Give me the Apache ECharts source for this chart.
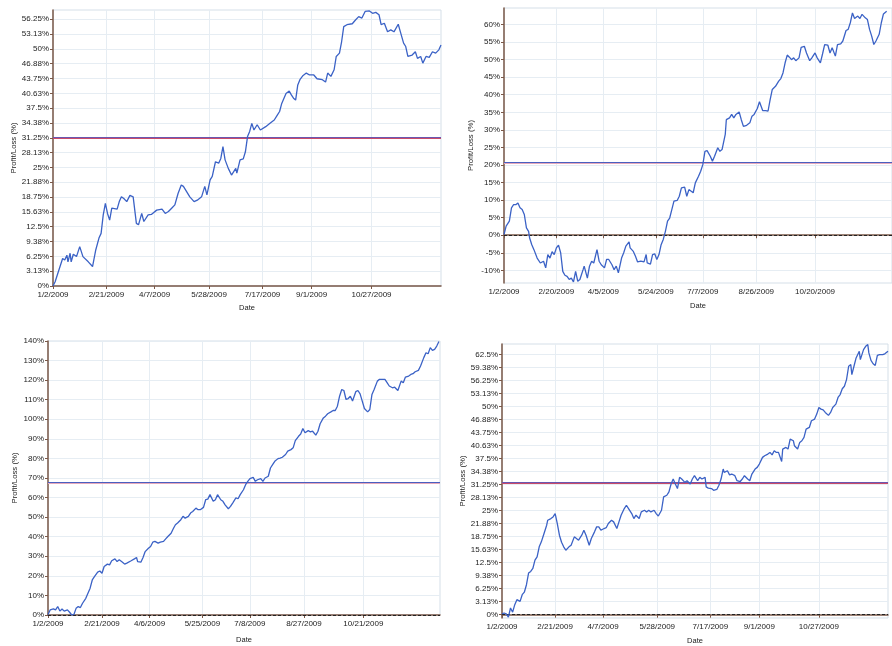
<!DOCTYPE html>
<html>
<head>
<meta charset="utf-8">
<script src="https://cdn.jsdelivr.net/npm/echarts@6/dist/echarts.min.js"></script>
<style>
html,body{margin:0;padding:0;background:#fff;}
#c{width:892px;height:646px;}
</style>
</head>
<body>
<div id="c"></div>
<script>
const YEAR = 2009;

// ---------- Panel 1 (top-left) ----------
const p1Dates = ['01-02','01-04','01-07','01-11','01-13','01-15','01-16','01-18','01-19','01-21',
'01-24','01-27','01-30','02-04','02-08','02-11','02-14','02-16','02-18','02-20',
'02-22','02-24','02-26','03-03','03-05','03-07','03-09','03-12','03-15','03-18',
'03-21','03-23','03-26','03-28','04-01','04-04','04-09','04-14','04-17','04-20',
'04-23','04-26','04-29','05-02','05-04','05-07','05-10','05-14','05-17','05-21',
'05-24','05-26','05-29','05-31','06-01','06-03','06-06','06-08','06-10','06-12',
'06-15','06-18','06-22','06-23','06-26','06-29','07-01','07-03','07-05','07-07',
'07-09','07-12','07-15','07-20','07-24','07-28','07-31','08-02','08-04','08-08',
'08-11','08-13','08-15','08-17','08-19','08-21','08-24','08-27','08-30','09-03',
'09-06','09-11','09-14','09-16','09-19','09-22','09-24','09-27','09-29','10-01',
'10-04','10-09','10-12','10-15','10-18','10-21','10-25','10-28','10-31','11-03',
'11-05','11-08','11-11','11-14','11-17','11-21','11-23','11-26','11-28','11-30',
'12-04','12-07','12-09','12-12','12-14','12-17','12-20','12-23','12-26','12-29',
'12-31'];
const p1Values = [0,0.9,3.0,5.8,5.5,6.5,5.1,6.9,5.1,6.7,
6.2,8.3,6.2,5.1,4.1,7.6,10.1,11.1,15.0,17.4,
15.3,13.9,16.4,16.2,17.8,18.8,18.5,17.8,19.1,18.8,
13.2,12.9,15.3,13.6,15.0,15.1,16.0,16.2,15.3,15.7,
16.4,17.1,19.5,21.3,21.0,19.9,18.8,17.8,18.1,18.8,
21.0,19.2,22.4,23.1,22.7,26.2,25.9,26.9,29.4,26.6,
24.8,23.4,24.8,23.8,26.6,26.8,28.3,31.5,32.6,34.3,
32.9,34.0,32.9,33.6,34.3,35.0,36.1,36.8,38.5,40.6,
41.1,40.3,39.6,39.2,42.4,43.5,44.4,44.9,44.5,44.5,
43.7,43.5,43.0,44.9,44.2,45.6,48.4,49.1,51.5,54.7,
55.1,55.3,56.1,56.8,56.5,57.9,58.0,57.5,57.7,57.2,
55.1,55.4,53.6,54.0,53.6,55.2,53.6,51.2,50.5,48.4,
48.7,49.4,48.0,48.4,47.0,48.4,48.2,49.4,49.1,49.8,
50.8];
const p1Average = 31.3;
const p1XTicks = ['01-02','02-21','04-07','05-28','07-17','09-01','10-27'];
const p1YTicks = [0,3.125,6.25,9.375,12.5,15.625,18.75,21.875,25,28.125,31.25,34.375,37.5,40.625,43.75,46.875,50,53.125,56.25];

// ---------- Panel 2 (top-right) ----------
const p2Dates = ['01-02','01-04','01-07','01-09','01-11','01-13','01-15','01-17','01-19','01-21',
'01-23','01-25','01-26','01-28','01-30','02-02','02-05','02-08','02-10','02-12',
'02-14','02-16','02-18','02-20','02-22','02-24','02-26','02-28','03-02','03-04',
'03-06','03-08','03-10','03-12','03-14','03-17','03-18','03-21','03-23','03-25',
'03-27','03-30','04-01','04-03','04-06','04-08','04-10','04-13','04-15','04-17',
'04-19','04-22','04-24','04-26','04-29','04-30','05-03','05-05','05-07','05-10',
'05-13','05-15','05-16','05-19','05-21','05-23','05-25','05-27','05-29','05-31',
'06-02','06-04','06-06','06-08','06-10','06-13','06-15','06-17','06-20','06-22',
'06-24','06-25','06-28','06-30','07-03','07-05','07-07','07-09','07-11','07-14',
'07-16','07-18','07-21','07-23','07-25','07-28','07-29','08-01','08-03','08-05',
'08-07','08-10','08-12','08-14','08-17','08-20','08-22','08-24','08-27','08-29',
'09-01','09-04','09-06','09-08','09-10','09-13','09-16','09-18','09-20','09-22',
'09-24','09-26','09-28','09-30','10-02','10-05','10-07','10-10','10-12','10-15',
'10-17','10-20','10-22','10-25','10-27','10-29','11-01','11-03','11-05','11-08',
'11-10','11-13','11-15','11-18','11-20','11-22','11-24','11-26','11-29','12-01',
'12-03','12-06','12-08','12-10','12-12','12-14','12-16','12-19','12-21','12-23',
'12-26'];
const p2Values = [0.2,2.6,4.0,7.8,8.7,8.7,9.2,7.8,7.3,5.9,
2.1,1.1,-0.8,-2.7,-4.1,-6.5,-7.9,-7.4,-9.3,-5.5,
-6.5,-4.7,-5.5,-3.6,-2.8,-5.0,-10.3,-11.4,-11.7,-12.6,
-12.2,-13.3,-10.3,-13.1,-12.6,-9.8,-8.8,-12.2,-8.8,-7.4,
-7.9,-4.1,-7.4,-8.4,-9.3,-6.9,-6.9,-8.4,-9.8,-8.8,
-10.7,-6.5,-5.0,-3.1,-1.9,-3.6,-4.6,-6.0,-7.6,-7.4,
-7.6,-5.5,-7.9,-8.2,-5.5,-5.3,-6.9,-5.5,-2.7,-1.2,
1.1,4.0,4.9,7.3,9.7,9.9,11.1,13.5,13.7,11.1,
13.0,12.5,12.1,14.9,16.8,18.2,20.1,23.9,24.1,22.5,
21.1,22.5,24.9,23.9,24.4,28.7,32.9,33.4,34.4,33.4,
34.4,35.1,32.9,31.0,31.3,32.0,33.9,34.4,36.1,38.0,
35.5,35.5,35.3,38.6,41.5,42.4,43.9,44.6,46.2,49.1,
51.3,50.7,50.0,50.5,49.7,50.5,53.5,53.8,51.9,49.7,
50.5,51.9,50.5,49.1,51.6,54.3,54.1,51.9,53.4,51.0,
54.3,54.5,55.3,58.3,58.6,60.5,63.3,61.7,62.4,61.7,
62.9,61.9,61.4,58.6,56.7,54.3,55.3,57.2,60.5,63.0,
63.8];
const p2Average = 20.9;
const p2XTicks = ['01-02','02-20','04-05','05-24','07-07','08-26','10-20'];
const p2YTicks = [-10,-5,0,5,10,15,20,25,30,35,40,45,50,55,60];

// ---------- Panel 3 (bottom-left) ----------
const p3Dates = ['01-02','01-04','01-07','01-09','01-11','01-13','01-15','01-17','01-20','01-22',
'01-24','01-26','01-28','01-30','02-01','02-03','02-06','02-07','02-10','02-12',
'02-14','02-17','02-19','02-21','02-23','02-26','02-28','03-02','03-05','03-07',
'03-09','03-12','03-14','03-16','03-20','03-23','03-25','03-26','03-29','03-31',
'04-02','04-05','04-07','04-09','04-11','04-14','04-16','04-19','04-21','04-23',
'04-26','04-28','04-30','05-02','05-05','05-07','05-09','05-12','05-14','05-16',
'05-19','05-21','05-23','05-26','05-28','05-30','06-01','06-04','06-06','06-08',
'06-11','06-13','06-15','06-18','06-20','06-22','06-25','06-27','06-29','07-02',
'07-04','07-06','07-08','07-11','07-13','07-15','07-18','07-20','07-22','07-25',
'07-27','07-29','07-31','08-03','08-05','08-07','08-10','08-12','08-15','08-17',
'08-19','08-22','08-24','08-26','08-28','08-31','09-02','09-04','09-07','09-09',
'09-11','09-14','09-16','09-18','09-21','09-23','09-25','09-27','09-29','10-01',
'10-03','10-05','10-07','10-09','10-11','10-14','10-16','10-18','10-20','10-22',
'10-25','10-27','10-29','10-31','11-03','11-05','11-07','11-10','11-12','11-14',
'11-17','11-19','11-22','11-23','11-25','11-27','11-29','12-02','12-04','12-06',
'12-08','12-11','12-13','12-16','12-18','12-20','12-22','12-24','12-26','12-28',
'12-30'];
const p3Values = [0.3,2.6,3.1,2.6,4.3,2.0,3.1,2.0,2.6,1.4,
0,0.3,3.4,4.3,3.8,6.0,8.5,7.7,13.7,17.9,
19.6,21.9,22.5,21.3,24.8,26.0,25.6,27.7,28.7,27.3,
28.2,27.0,26.0,26.5,27.7,28.7,29.4,27.3,27.0,29.4,
32.4,34.1,35.0,37.2,37.6,36.7,37.2,37.6,38.9,40.1,
41.8,44.1,46.1,47.0,48.7,50.4,49.5,50.4,52.1,52.9,
54.6,53.8,53.8,55.0,58.9,59.2,61.5,58.1,58.9,61.5,
58.9,58.1,56.3,54.3,55.5,57.2,59.8,59.4,61.5,64.0,
66.6,68.3,69.7,70.3,68.3,69.1,69.7,68.3,70.0,70.9,
75.1,76.8,78.5,79.9,80.2,80.6,82.0,83.7,84.5,85.4,
89.1,91.3,92.5,95.3,93.1,94.2,93.6,93.9,91.9,93.9,
97.7,100.7,101.6,102.8,103.8,104.5,104.5,106.7,111.8,115.2,
114.7,110.1,110.6,111.8,109.3,114.1,114.7,113.0,109.3,105.5,
103.8,105.0,112.7,115.2,119.5,120.4,120.4,120.4,118.7,117.0,
116.1,116.4,114.7,114.1,119.5,118.7,121.6,122.1,122.9,123.3,
124.3,125.0,127.2,131.5,134.0,133.5,136.6,135.2,135.7,137.4,
139.7];
const p3Average = 67.8;
const p3XTicks = ['01-02','02-21','04-06','05-25','07-08','08-27','10-21'];
const p3YTicks = [0,10,20,30,40,50,60,70,80,90,100,110,120,130,140];

// ---------- Panel 4 (bottom-right) ----------
const p4Dates = ['01-02','01-04','01-06','01-08','01-10','01-12','01-14','01-16','01-19','01-21',
'01-23','01-25','01-27','01-29','01-31','02-02','02-04','02-06','02-08','02-10',
'02-11','02-13','02-14','02-17','02-19','02-21','02-23','02-25','02-27','03-01',
'03-03','03-06','03-08','03-11','03-13','03-15','03-18','03-20','03-22','03-25',
'03-27','03-30','04-01','04-03','04-05','04-08','04-10','04-12','04-15','04-17',
'04-20','04-22','04-24','04-27','04-29','05-01','05-04','05-06','05-08','05-11',
'05-13','05-16','05-18','05-20','05-22','05-25','05-27','05-29','06-01','06-03',
'06-06','06-08','06-10','06-12','06-14','06-16','06-18','06-20','06-23','06-25',
'06-28','06-30','07-02','07-05','07-07','07-09','07-12','07-13','07-15','07-18',
'07-20','07-23','07-25','07-27','07-29','07-30','08-02','08-04','08-06','08-09',
'08-11','08-14','08-16','08-18','08-21','08-23','08-25','08-28','08-30','09-01',
'09-04','09-06','09-09','09-11','09-13','09-15','09-17','09-19','09-22','09-23',
'09-26','09-28','09-30','10-03','10-04','10-07','10-09','10-11','10-13','10-15',
'10-18','10-20','10-23','10-25','10-27','10-29','10-31','11-02','11-05','11-07',
'11-09','11-12','11-14','11-16','11-18','11-20','11-22','11-24','11-26','11-27',
'11-29','12-01','12-04','12-05','12-08','12-10','12-12','12-13','12-15','12-17',
'12-19','12-21','12-23','12-26','12-28','12-31'];
const p4Values = [0.2,0.4,0.2,-0.6,1.6,0.6,2.4,3.6,3.2,4.8,
5.4,7.2,10.0,10.4,11.1,13.1,13.9,16.3,17.5,19.1,
19.5,21.5,22.7,23.1,23.5,24.3,21.9,19.1,17.4,16.3,
15.5,16.3,16.7,18.7,18.3,17.9,19.1,20.3,19.1,16.7,
18.3,19.9,21.1,21.1,20.3,20.7,20.9,21.9,22.7,22.3,
20.7,22.3,23.9,25.5,26.3,25.5,24.3,23.1,23.9,23.1,
24.7,25.1,24.7,25.1,24.7,25.1,24.3,23.7,25.1,28.3,
28.7,29.5,31.4,32.6,31.4,30.3,33.0,32.6,31.8,32.2,
31.4,32.6,33.4,32.2,33.0,32.6,33.0,30.7,30.4,30.3,
29.9,30.1,31.1,32.6,35.0,34.2,34.6,33.6,33.8,33.4,
32.2,32.0,32.6,33.4,32.6,32.2,33.8,35.0,35.4,36.2,
37.8,38.2,38.6,39.0,38.4,39.4,39.0,39.0,36.8,39.8,
40.2,39.8,42.2,41.8,40.6,39.8,41.4,41.8,42.6,44.6,
45.0,46.6,47.0,48.2,49.8,49.4,49.2,48.6,47.9,48.6,
49.8,50.6,52.2,52.9,54.3,54.9,56.5,59.7,60.1,57.7,
59.7,61.7,63.3,61.3,63.7,64.5,64.9,62.9,61.1,60.3,
59.9,62.3,62.5,62.5,62.7,63.3];
const p4Average = 31.8;
const p4XTicks = ['01-02','02-21','04-07','05-28','07-17','09-01','10-27'];
const p4YTicks = [0,3.125,6.25,9.375,12.5,15.625,18.75,21.875,25,28.125,31.25,34.375,37.5,40.625,43.75,46.875,50,53.125,56.25,59.375,62.5];

const xStart = '01-02';
const xEnd = '12-31';
const yTitle = 'Profit/Loss (%)';
const xTitle = 'Date';

// ---------- helpers ----------
function ts(md){ const p = md.split('-').map(Number); return new Date(YEAR, p[0]-1, p[1]).getTime(); }
function fmtDate(v){ const d = new Date(+v); return (d.getMonth()+1)+'/'+d.getDate()+'/'+d.getFullYear(); }
function fmtPct(v){ return (+(+v).toFixed(2)) + '%'; }

const FONT = 'Liberation Sans';
const AXIS_COLOR = '#7a5848';
const GRID_LINE = '#e6edf3';

const panels = [
  {dates:p1Dates, values:p1Values, avg:p1Average, xt:p1XTicks, yt:p1YTicks, yMin:0, yMax:58.2, zero:false,
   grid:{left:53, top:10, width:388, height:276}, yGap:35, xGap:18, avgColor:'#6a58b0', avgShadow:'#c84a6a'},
  {dates:p2Dates, values:p2Values, avg:p2Average, xt:p2XTicks, yt:p2YTicks, yMin:-13.6, yMax:64.7, zero:true,
   grid:{left:504, top:8, width:393, height:275}, yGap:29, xGap:19, avgColor:'#4a5fc0', avgShadow:'#e4a8bc'},
  {dates:p3Dates, values:p3Values, avg:p3Average, xt:p3XTicks, yt:p3YTicks, yMin:0, yMax:140, zero:true,
   grid:{left:48, top:341, width:392, height:274}, yGap:29, xGap:21, avgColor:'#4a5fc0', avgShadow:'#e4a8bc'},
  {dates:p4Dates, values:p4Values, avg:p4Average, xt:p4XTicks, yt:p4YTicks, yMin:-0.8, yMax:65.05, zero:true,
   grid:{left:502, top:344, width:386, height:276}, yGap:35, xGap:19, avgColor:'#6a58b0', avgShadow:'#c84a6a'}
];

const option = {animation:false, backgroundColor:'#fff', grid:[], xAxis:[], yAxis:[], series:[]};

panels.forEach((p, i) => {
  option.grid.push(Object.assign({show:true, borderColor:'#d5dfe8', borderWidth:1, backgroundColor:'#fff'}, p.grid));
  const xVals = p.xt.map(ts);
  option.xAxis.push({
    type:'value', gridIndex:i, min:ts(xStart), max:ts(xEnd), scale:true,
    name:xTitle, nameLocation:'middle', nameGap:p.xGap,
    nameTextStyle:{fontFamily:FONT, fontSize:7.5, color:'#222'},
    axisLine:{show:true, lineStyle:{color:AXIS_COLOR, width:1.5}},
    axisTick:{show:true, length:3, lineStyle:{color:AXIS_COLOR}, customValues:xVals},
    axisLabel:{customValues:xVals, formatter:fmtDate, fontFamily:FONT, fontSize:8, color:'#222', margin:5, hideOverlap:false},
    splitLine:{show:true, lineStyle:{color:GRID_LINE, width:1}}
  });
  option.yAxis.push({
    type:'value', gridIndex:i, min:p.yMin, max:p.yMax,
    name:yTitle, nameLocation:'middle', nameGap:p.yGap,
    nameTextStyle:{fontFamily:FONT, fontSize:7.8, color:'#222'},
    axisLine:{show:true, lineStyle:{color:AXIS_COLOR, width:1.5}},
    axisTick:{show:true, length:3, lineStyle:{color:AXIS_COLOR}, customValues:p.yt},
    axisLabel:{customValues:p.yt, formatter:fmtPct, fontFamily:FONT, fontSize:8, color:'#222', margin:4},
    splitLine:{show:true, lineStyle:{color:GRID_LINE, width:1}}
  });
  const markData = [{yAxis:p.avg, lineStyle:{color:p.avgColor, width:1.2, type:'solid', shadowColor:p.avgShadow, shadowOffsetY:1, shadowBlur:0}}];
  if (p.zero) markData.push({yAxis:0, lineStyle:{color:'#222', width:1, type:[3,2]}});
  option.series.push({
    type:'line', xAxisIndex:i, yAxisIndex:i, showSymbol:false, symbol:'none',
    lineStyle:{color:'#3b62c6', width:1.3}, z:3,
    data:p.dates.map((d, k) => [ts(d), p.values[k]]),
    markLine:{silent:true, symbol:'none', label:{show:false}, z:2, data:markData}
  });
});

const chart = echarts.init(document.getElementById('c'), null, {renderer:'canvas'});
chart.setOption(option);
</script>
</body>
</html>
